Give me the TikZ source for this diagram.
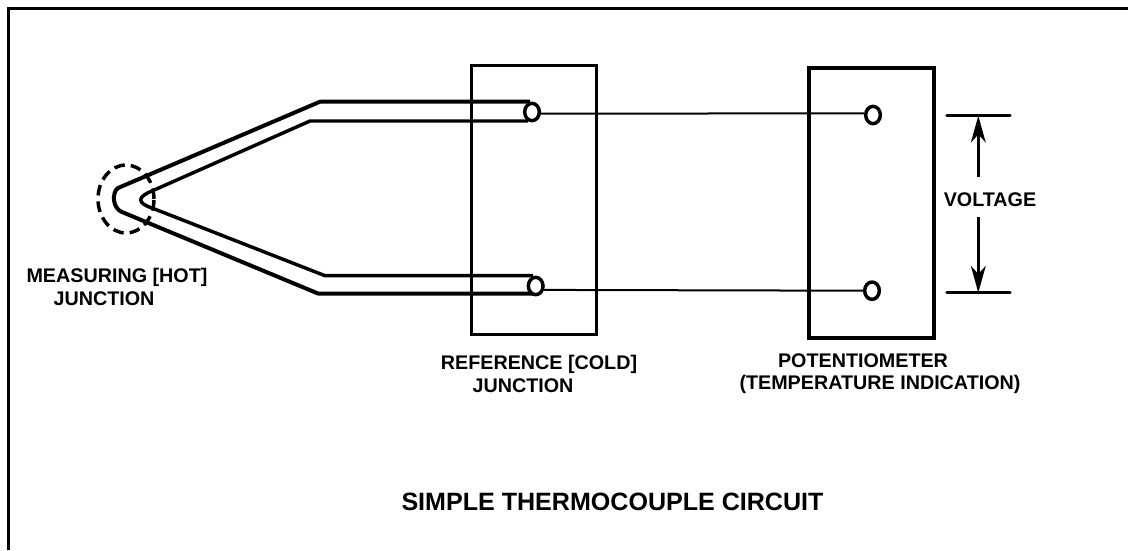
\documentclass[tikz,border=0pt]{standalone}
\usepackage{fontspec}
\setmainfont{Liberation Sans}
\usetikzlibrary{arrows.meta,shapes.geometric}
\tikzset{
	box/.style={draw, rectangle, inner sep=0pt, line width=2pt},
	terminal/.style={draw, ellipse, fill=white, inner sep=0pt, line width=2.6pt, minimum width=11pt, minimum height=13pt},
	label/.style={inner sep=0pt, font=\bfseries\fontsize{14.8pt}{17pt}\selectfont},
	wire/.style={line width=1.5pt},
	sheath/.style={line width=3pt, line join=round},
	bar/.style={line width=2.5pt, line cap=round},
	pointer/.style={line width=2.5pt, -{Stealth[length=20pt, width=11pt, inset=6pt]}},
}
\begin{document}
\begin{tikzpicture}[x=0.75pt, y=-0.75pt]
\useasboundingbox (0,0) rectangle (1128,550);

% FRAME
\coordinate(fa) at(8.5, 550);
\coordinate(fb) at(8.5, 8.5);
\coordinate(fc) at(1128, 8.5);
\draw[line width=2.25pt] (fa) -- (fb) -- (fc);

% NODES
\node[box, minimum width=93.75pt, minimum height=201.75pt] (refbox) at(534.2, 200.3) {};
\node[box, line width=2.3pt, minimum width=93.75pt, minimum height=202.5pt] (potbox) at(871.5, 203) {};

\node[draw, ellipse, dash pattern=on 8pt off 4.5pt, line width=2.6pt, inner sep=0pt, minimum width=42pt, minimum height=51pt] (hot) at(126, 199) {};

% SHEATH POINTS
\foreach \n/\x/\y in{
	oa/530/101.7, ob/320/101.7, oc/118/188, od/122/212, oe/318/293.5, of/538/293.5,
	ia/528/121, ib/310/121, ic/152/191, id/152/208, ie/325/275.7, if/533/275.7,
	va/978.3/176.7, vb/978.3/115.7, vc/978.3/217, vd/978.3/292.7,
	ta/947/115.7, tb/1010/115.7, ba/947/292.7, bb/1010/292.7%
}{
	\coordinate(\n) at(\x,\y);
}

% WIRES
\draw[sheath] (oa) -- (ob) -- (oc) .. controls (112,192) and (112,208) .. (od) -- (oe) -- (of);
\draw[sheath, line width=2.6pt] (ia) -- (ib) -- (ic) .. controls (137,197) and (137,203) .. (id) -- (ie) -- (if);

\node[terminal] (ja) at(532, 112) {};
\node[terminal] (jb) at(535.7, 286) {};
\node[terminal] (jc) at(873, 115) {};
\node[terminal] (jd) at(872, 290.7) {};

\draw[wire] (ja.-10) -- (jc.170);
\draw[wire] (jb.-25) -- (jd.west);

% VOLTAGE
\draw[bar] (ta) -- (tb);
\draw[bar] (ba) -- (bb);
\draw[pointer] (va) -- (vb);
\draw[pointer] (vc) -- (vd);

% LABELS
\node[label] (hota) at(117, 277) {MEASURING [HOT]};
\node[label] (hotb) at(104, 299) {JUNCTION};
\node[label] (refa) at(539, 364) {REFERENCE [COLD]};
\node[label] (refb) at(523, 386) {JUNCTION};
\node[label] (pota) at(863, 361) {POTENTIOMETER};
\node[label] (potb) at(880, 384) {(TEMPERATURE INDICATION)};
\node[label] (volt) at(990, 200) {VOLTAGE};
\node[label, font=\bfseries\fontsize{18.8pt}{21pt}\selectfont] (title) at(612.5, 502) {SIMPLE THERMOCOUPLE CIRCUIT};

\end{tikzpicture}
\end{document}
